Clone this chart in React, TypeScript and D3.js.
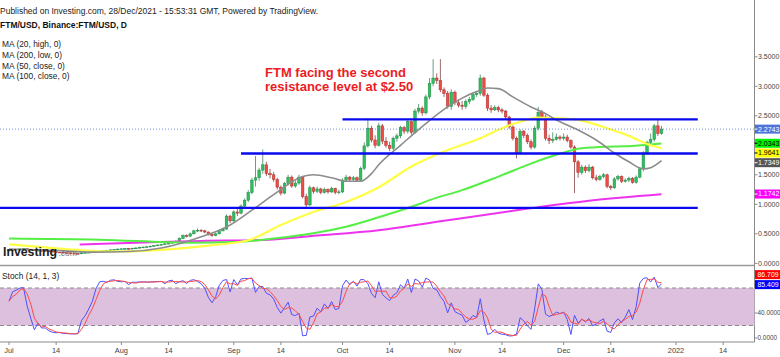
import React from "react";
import * as d3 from "d3";

const W = 780;
const H = 357;
const START_UTC = Date.UTC(2021, 6, 1);
const DAY = 86400000;

// ---------- daily OHLC (open = previous close) ----------
const firstOpen = 0.22;
const julClose = [0.225, 0.232, 0.238, 0.243, 0.248, 0.236, 0.228, 0.216, 0.221, 0.214, 0.209, 0.203, 0.196, 0.19, 0.185, 0.18, 0.176, 0.171, 0.166, 0.161, 0.176, 0.181, 0.187, 0.192, 0.2, 0.208, 0.214, 0.22, 0.228, 0.236, 0.241];
const julHigh = [0.232, 0.238, 0.245, 0.25, 0.256, 0.25, 0.24, 0.23, 0.228, 0.224, 0.218, 0.212, 0.206, 0.2, 0.194, 0.19, 0.184, 0.18, 0.176, 0.17, 0.18, 0.188, 0.192, 0.198, 0.206, 0.214, 0.22, 0.228, 0.234, 0.242, 0.25];
const julLow = [0.215, 0.222, 0.228, 0.234, 0.238, 0.23, 0.22, 0.21, 0.21, 0.206, 0.2, 0.196, 0.19, 0.184, 0.178, 0.174, 0.17, 0.165, 0.16, 0.155, 0.158, 0.172, 0.178, 0.183, 0.188, 0.196, 0.204, 0.21, 0.216, 0.224, 0.23];

const augClose = [0.245, 0.25, 0.245, 0.255, 0.26, 0.27, 0.275, 0.28, 0.29, 0.3, 0.31, 0.32, 0.33, 0.34, 0.36, 0.37, 0.42, 0.47, 0.46, 0.5, 0.55, 0.56, 0.55, 0.53, 0.49, 0.47, 0.5, 0.55, 0.58, 0.8, 0.72];
const augHigh = [0.255, 0.26, 0.258, 0.265, 0.27, 0.28, 0.285, 0.29, 0.3, 0.31, 0.32, 0.33, 0.345, 0.35, 0.37, 0.39, 0.44, 0.49, 0.49, 0.52, 0.57, 0.59, 0.58, 0.57, 0.54, 0.5, 0.52, 0.57, 0.6, 0.83, 0.82];
const augLow = [0.235, 0.24, 0.236, 0.24, 0.25, 0.255, 0.265, 0.27, 0.275, 0.285, 0.295, 0.305, 0.315, 0.325, 0.335, 0.35, 0.36, 0.41, 0.44, 0.45, 0.49, 0.53, 0.53, 0.51, 0.47, 0.45, 0.46, 0.49, 0.54, 0.57, 0.68];

const sepClose = [0.87, 0.85, 0.97, 1.07, 1.2, 1.41, 1.45, 1.58, 1.67, 1.52, 1.5, 1.42, 1.29, 1.19, 1.35, 1.46, 1.31, 1.36, 1.46, 1.13, 0.99, 1.28, 1.22, 1.26, 1.2, 1.25, 1.21, 1.27, 1.2, 1.21];
const sepHigh = [0.9, 0.92, 1.0, 1.1, 1.24, 1.45, 1.82, 1.62, 1.93, 1.72, 1.6, 1.55, 1.45, 1.32, 1.38, 1.5, 1.49, 1.4, 1.5, 1.48, 1.18, 1.32, 1.3, 1.3, 1.28, 1.28, 1.27, 1.3, 1.28, 1.25];
const sepLow = [0.7, 0.8, 0.83, 0.94, 1.04, 1.17, 1.3, 1.4, 1.52, 1.48, 1.44, 1.38, 1.25, 1.15, 1.17, 1.32, 1.28, 1.28, 1.33, 1.1, 0.95, 0.97, 1.18, 1.19, 1.17, 1.18, 1.18, 1.19, 1.17, 1.17];

const octClose = [1.41, 1.46, 1.42, 1.45, 1.41, 1.61, 1.99, 2.29, 2.09, 2.0, 2.33, 2.07, 2.0, 1.95, 2.12, 2.16, 2.3, 2.24, 2.4, 2.22, 2.58, 2.63, 2.55, 2.82, 3.05, 3.14, 3.1, 2.94, 2.88, 2.66, 2.9];
const octHigh = [1.44, 1.5, 1.48, 1.48, 1.47, 1.64, 2.05, 2.46, 2.33, 2.17, 2.38, 2.36, 2.14, 2.06, 2.15, 2.2, 2.33, 2.33, 2.43, 2.42, 2.62, 2.7, 2.66, 2.86, 3.14, 3.46, 3.22, 3.46, 2.98, 2.92, 2.95];
const octLow = [1.19, 1.38, 1.38, 1.39, 1.38, 1.39, 1.58, 1.96, 2.05, 1.95, 1.98, 2.02, 1.96, 1.9, 1.92, 2.06, 2.12, 2.19, 2.2, 2.18, 2.2, 2.54, 2.5, 2.52, 2.78, 3.0, 3.04, 2.9, 2.82, 2.62, 2.6];

const novClose = [2.72, 2.68, 2.66, 2.74, 2.78, 2.86, 2.88, 3.14, 2.85, 2.63, 2.6, 2.64, 2.6, 2.58, 2.48, 2.31, 2.12, 1.87, 2.24, 2.17, 2.06, 1.97, 2.29, 2.56, 2.48, 2.12, 2.08, 2.1, 2.14, 2.12];
const novHigh = [2.93, 2.78, 2.75, 2.78, 2.82, 2.9, 2.92, 3.2, 3.16, 2.88, 2.68, 2.68, 2.67, 2.63, 2.6, 2.5, 2.34, 2.15, 2.27, 2.26, 2.2, 2.1, 2.33, 2.65, 2.6, 2.52, 2.18, 2.22, 2.2, 2.17];
const novLow = [2.68, 2.64, 2.6, 2.62, 2.7, 2.75, 2.82, 2.84, 2.82, 2.58, 2.55, 2.58, 2.56, 2.54, 2.44, 2.28, 2.08, 1.78, 1.84, 2.12, 2.02, 1.93, 1.94, 2.25, 2.44, 2.08, 2.02, 2.04, 2.08, 2.08];

const decClose = [2.14, 2.08, 1.97, 1.72, 1.54, 1.63, 1.57, 1.63, 1.45, 1.42, 1.47, 1.5, 1.3, 1.28, 1.43, 1.47, 1.39, 1.41, 1.44, 1.37, 1.46, 1.6, 1.87, 2.05, 2.1, 2.33, 2.2, 2.2743];
const decHigh = [2.2, 2.18, 2.1, 2.0, 1.75, 1.67, 1.66, 1.68, 1.65, 1.5, 1.5, 1.53, 1.52, 1.33, 1.46, 1.5, 1.49, 1.44, 1.47, 1.46, 1.49, 1.63, 1.9, 2.08, 2.2, 2.36, 2.43, 2.33];
const decLow = [2.08, 2.05, 1.94, 1.19, 1.45, 1.5, 1.53, 1.54, 1.42, 1.39, 1.4, 1.44, 1.27, 1.24, 1.26, 1.4, 1.36, 1.37, 1.38, 1.35, 1.35, 1.44, 1.56, 1.84, 2.0, 2.06, 2.16, 2.18];

// ---------- moving averages, sampled [day index, value] ----------
const ma20High = [[0, 0.24], [12, 0.22], [23, 0.19], [33, 0.2], [42, 0.26], [48, 0.35], [53, 0.45], [58, 0.56], [61, 0.65], [67, 0.9], [72, 1.12], [75, 1.25], [78, 1.38], [81, 1.47], [84, 1.5], [89, 1.45], [93, 1.39], [97, 1.39], [100, 1.52], [102, 1.67], [108, 2.0], [116, 2.42], [121, 2.65], [125, 2.8], [129, 2.91], [132, 2.97], [135, 2.96], [139, 2.82], [144, 2.65], [147, 2.57], [151, 2.43], [157, 2.26], [162, 2.09], [167, 1.87], [171, 1.72], [175, 1.6], [177, 1.62], [180, 1.74]];
const ma200Low = [[19.5, 0.32], [35, 0.35], [53, 0.38], [68, 0.39], [85, 0.47], [102, 0.56], [120, 0.72], [140, 0.9], [160, 1.06], [180, 1.17]];
const ma50Close = [[0, 0.32], [10, 0.27], [20, 0.22], [30, 0.2], [45, 0.24], [55, 0.3], [66, 0.39], [75, 0.65], [84, 0.87], [93, 1.04], [102, 1.29], [111, 1.64], [121, 1.92], [130, 2.12], [136, 2.29], [141, 2.4], [146, 2.47], [151, 2.46], [157, 2.43], [165, 2.29], [171, 2.16], [177, 2.0], [180, 1.95]];
const ma100Close = [[0, 0.42], [25, 0.4], [50, 0.35], [62, 0.36], [73, 0.42], [84, 0.51], [93, 0.62], [102, 0.78], [113, 1.0], [116, 1.07], [125, 1.24], [135, 1.47], [144, 1.69], [151, 1.84], [158, 1.95], [167, 1.98], [172, 1.99], [180, 2.03]];

// ---------- annotations ----------
const levelValues = [2.44, 1.86, 0.94];
const levelStarts = ["2021-10-01", "2021-09-03", "2021-06-28"];
const levelEnd = "2022-01-07";

const priceTicks = [0, 0.5, 1.0, 1.5, 2.0, 2.5, 3.0, 3.5];
const stochTicks = [0, 40];
const xTickDates = ["2021-07-01", "2021-07-14", "2021-08-01", "2021-08-14", "2021-09-01", "2021-09-14", "2021-10-01", "2021-10-14", "2021-11-01", "2021-11-14", "2021-12-01", "2021-12-14", "2022-01-01", "2022-01-14"];
const xTickLabels = ["Jul", "14", "Aug", "14", "Sep", "14", "Oct", "14", "Nov", "14", "Dec", "14", "2022", "14"];

const priceLabelValues = [2.2743, 2.0343, 1.9641, 1.7349, 1.1742];
const priceLabelFills = ["#4f74d9", "#00f000", "#ffff00", "#555555", "#ff00ff"];
const priceLabelText = ["#ffffff", "#000000", "#000000", "#ffffff", "#ffffff"];
const stochLabelValues = [86.709, 85.409];
const stochLabelFills = ["#ff0000", "#0000ff"];

const headerText = "Published on Investing.com, 28/Dec/2021 - 15:53:31 GMT, Powered by TradingView.";
const titleText = "FTM/USD, Binance:FTM/USD, D";
const legendItems = ["MA (20, high, 0)", "MA (200, low, 0)", "MA (50, close, 0)", "MA (100, close, 0)"];
const noteLines = ["FTM facing the second", "resistance level at $2.50"];
const stochTitle = "Stoch (14, 1, 3)";

const FONT = "'Liberation Sans', Arial, sans-serif";

const closes = [...julClose, ...augClose, ...sepClose, ...octClose, ...novClose, ...decClose];
const highs = [...julHigh, ...augHigh, ...sepHigh, ...octHigh, ...novHigh, ...decHigh];
const lows = [...julLow, ...augLow, ...sepLow, ...octLow, ...novLow, ...decLow];
const opens = closes.map((c, i) => (i === 0 ? firstOpen : closes[i - 1]));

const dayDate = (i: number) => new Date(START_UTC + i * DAY);
const parse = (s: string) => {
  const [y, m, d] = s.split("-").map(Number);
  return new Date(Date.UTC(y, m - 1, d));
};

export default function App() {
  const x = d3.scaleUtc().domain([new Date(START_UTC), new Date(Date.UTC(2022, 0, 1))]).range([9, 676]);
  const y = d3.scaleLinear().domain([0, 3.5]).range([263.3, 56.8]);
  const ys = d3.scaleLinear().domain([0, 100]).range([338, 275.5]);
  const AX = 754.5;
  const GAP = 9.7;

  // stochastic (14,1,3)
  const kVals = closes.map((c, i) => {
    const s = Math.max(0, i - 13);
    const hh = d3.max(highs.slice(s, i + 1)) as number;
    const ll = d3.min(lows.slice(s, i + 1)) as number;
    return hh === ll ? 50 : (100 * (c - ll)) / (hh - ll);
  });
  const dVals = kVals.map((_, i) => d3.mean(kVals.slice(Math.max(0, i - 2), i + 1)) as number);

  // price value labels: push down to avoid overlap
  const order = priceLabelValues.map((v, i) => i).sort((a, b) => y(priceLabelValues[a]) - y(priceLabelValues[b]));
  const labelY: number[] = [];
  let prev = -Infinity;
  order.forEach((i) => {
    const ny = Math.max(y(priceLabelValues[i]), prev + GAP);
    labelY[i] = ny;
    prev = ny;
  });
  // stoch value labels: lower one stays, upper one pushed up
  const stY: number[] = [];
  stY[1] = ys(stochLabelValues[1]);
  stY[0] = Math.min(ys(stochLabelValues[0]), stY[1] - 10);

  const visiblePriceTicks = priceTicks.filter((v) => labelY.every((ly) => Math.abs(ly - y(v)) > 7.5));

  const maLine = d3
    .line<number[]>()
    .x((p) => x(dayDate(p[0])))
    .y((p) => y(p[1]))
    .curve(d3.curveMonotoneX);
  const stLine = d3
    .line<number>()
    .x((_, i) => x(dayDate(i)))
    .y((v) => ys(v));

  const bw = 2.6;

  return (
    <div style={{ position: "fixed", left: 0, top: 0, width: W, height: H, background: "#fff" }}>
      <svg width={W} height={H} style={{ display: "block", fontFamily: FONT }}>
        <rect x={0} y={0} width={W} height={H} fill="#ffffff" />

        {/* candles */}
        <g>
          {closes.map((c, i) => {
            const o = opens[i];
            const up = c >= o;
            const cx = x(dayDate(i));
            const top = y(Math.max(o, c));
            const bot = y(Math.min(o, c));
            return (
              <g key={i}>
                <line x1={cx} x2={cx} y1={y(highs[i])} y2={y(lows[i])} stroke={up ? "#6a9f7c" : "#a06a6a"} strokeWidth={1} />
                <rect
                  x={cx - bw / 2}
                  y={top}
                  width={bw}
                  height={Math.max(0.8, bot - top)}
                  fill={up ? "#2fbf5e" : "#ee4c45"}
                  stroke={up ? "#1f8a47" : "#a83232"}
                  strokeWidth={0.5}
                />
              </g>
            );
          })}
        </g>

        {/* moving averages */}
        <path d={maLine(ma200Low) || ""} fill="none" stroke="#ee33ee" strokeWidth={2} />
        <path d={maLine(ma100Close) || ""} fill="none" stroke="#55ee44" strokeWidth={2} />
        <path d={maLine(ma50Close) || ""} fill="none" stroke="#ffff44" strokeWidth={2.2} />
        <path d={maLine(ma20High) || ""} fill="none" stroke="#8c8c8c" strokeWidth={1.6} />

        {/* horizontal levels */}
        {levelValues.map((v, i) => (
          <line
            key={i}
            x1={Math.max(0, x(parse(levelStarts[i])))}
            x2={x(parse(levelEnd))}
            y1={y(v)}
            y2={y(v)}
            stroke="#0a0aee"
            strokeWidth={2.4}
          />
        ))}
        {/* last price dotted line */}
        <line x1={0} x2={AX} y1={y(priceLabelValues[0])} y2={y(priceLabelValues[0])} stroke="#4f74d9" strokeWidth={0.8} strokeDasharray="1,2" />

        {/* Investing.com logo */}
        <text x={3} y={256} fontSize={12.3} fontWeight="bold" fill="#222">Investing</text>
        <text x={58.5} y={256} fontSize={8.5} fill="#777">.com</text>

        {/* header texts */}
        <text x={0} y={14} fontSize={8.4} fill="#222" textLength={318} lengthAdjust="spacingAndGlyphs">{headerText}</text>
        <text x={0} y={28} fontSize={8.4} fontWeight="bold" fill="#111" textLength={127} lengthAdjust="spacingAndGlyphs">{titleText}</text>
        {legendItems.map((t, i) => (
          <text key={i} x={2} y={47 + i * 10.8} fontSize={8.4} fill="#222">{t}</text>
        ))}
        {noteLines.map((t, i) => (
          <text key={i} x={265} y={76.5 + i * 14.5} fontSize={13} fontWeight="bold" fill="#ec1c24">{t}</text>
        ))}

        {/* panel frames */}
        <line x1={0} x2={AX} y1={265.5} y2={265.5} stroke="#9a9a9a" strokeWidth={1.5} />
        <line x1={0} x2={AX} y1={342} y2={342} stroke="#8a8a8a" strokeWidth={1} />
        <line x1={AX} x2={AX} y1={0} y2={342} stroke="#8a8a8a" strokeWidth={1} />

        {/* stochastic panel */}
        <rect x={0} y={ys(80)} width={AX} height={ys(20) - ys(80)} fill="#dcc0dd" />
        <line x1={0} x2={AX} y1={ys(80)} y2={ys(80)} stroke="#8a8a8a" strokeWidth={1} strokeDasharray="4,3" />
        <line x1={0} x2={AX} y1={ys(20)} y2={ys(20)} stroke="#8a8a8a" strokeWidth={1} strokeDasharray="4,3" />
        <path d={stLine(kVals) || ""} fill="none" stroke="#5050ff" strokeWidth={1} />
        <path d={stLine(dVals) || ""} fill="none" stroke="#ff4a4a" strokeWidth={1} />
        <text x={2} y={279} fontSize={8.4} fill="#222">{stochTitle}</text>

        {/* price axis */}
        {priceTicks.map((v, i) => (
          <line key={"t" + i} x1={AX} x2={AX + 3} y1={y(v)} y2={y(v)} stroke="#8a8a8a" />
        ))}
        {visiblePriceTicks.map((v, i) => (
          <text key={i} x={758} y={y(v)} dy="0.35em" fontSize={7} fill="#444">{v.toFixed(4)}</text>
        ))}
        {priceLabelValues.map((v, i) => (
          <g key={i}>
            <rect x={AX + 0.5} y={labelY[i] - 4.5} width={W - AX} height={9} fill={priceLabelFills[i]} />
            <line x1={AX} x2={AX + 3} y1={labelY[i]} y2={labelY[i]} stroke={priceLabelText[i]} />
            <text x={758} y={labelY[i]} dy="0.35em" fontSize={7} fill={priceLabelText[i]}>{v.toFixed(4)}</text>
          </g>
        ))}

        {/* stoch axis */}
        {stochTicks.map((v, i) => (
          <g key={i}>
            <line x1={AX} x2={AX + 3} y1={ys(v)} y2={ys(v)} stroke="#8a8a8a" />
            <text x={757.5} y={ys(v)} dy="0.35em" fontSize={6.4} fill="#444">{v.toFixed(4)}</text>
          </g>
        ))}
        {stochLabelValues.map((v, i) => (
          <g key={i}>
            <rect x={AX + 0.5} y={stY[i] - 4.5} width={W - AX} height={9} fill={stochLabelFills[i]} />
            <text x={757.5} y={stY[i]} dy="0.35em" fontSize={6.9} fill="#fff">{v.toFixed(3)}</text>
          </g>
        ))}

        {/* time axis */}
        {xTickDates.map((s, i) => {
          const tx = x(parse(s));
          return (
            <g key={i}>
              <line x1={tx} x2={tx} y1={342} y2={345} stroke="#8a8a8a" />
              <text x={tx} y={353} textAnchor="middle" fontSize={7.4} fill="#444">{xTickLabels[i]}</text>
            </g>
          );
        })}
      </svg>
    </div>
  );
}
